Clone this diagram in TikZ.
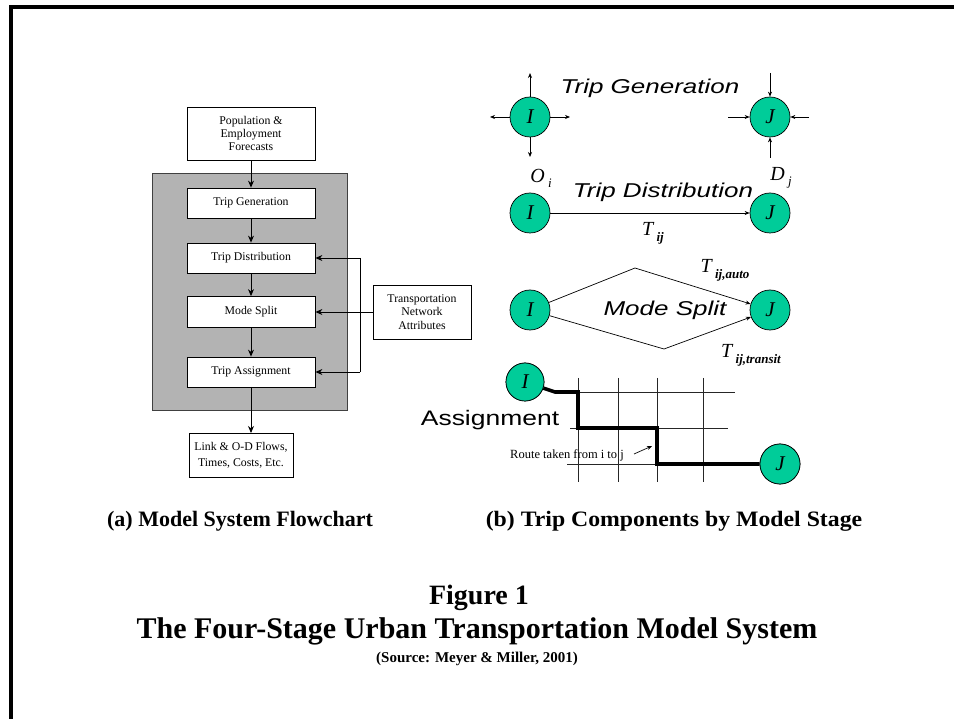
\documentclass[tikz,border=0pt]{standalone}
\usepackage{fontspec}
\usepackage{graphicx}
\setmainfont{Liberation Serif}
\newfontfamily\arialfont{Liberation Sans}
\usetikzlibrary{arrows.meta}

\definecolor{nodegreen}{RGB}{0,204,153}
\definecolor{panelgray}{RGB}{179,179,179}

\newcommand\setfs[2]{\fontsize{#1}{#2}\selectfont}
% italic sans stage headings, widened as in the slide
\newcommand\stagelabel[1]{\scalebox{1.3}[1]{\arialfont\itshape\setfs{20}{20}#1}}
% italic symbol with lowered subscript
\newcommand\symlab[2]{{\setfs{20}{20}\itshape #1\,\raisebox{-5pt}{\setfs{13}{13}#2}}}
\newcommand\tsym[1]{{\setfs{20}{20}\itshape T\,\raisebox{-6pt}{\setfs{13}{13}\bfseries\itshape #1}}}

\begin{document}
\begin{tikzpicture}[x=1pt,y=-1pt,
  box/.style={draw, fill=white, line width=0.8pt, inner sep=0pt, align=center,
              font=\setfs{11.8}{13}},
  flow/.style={line width=0.9pt, -{Stealth[length=7pt,width=6pt]}},
  thin arrow/.style={line width=0.7pt, -{Stealth[length=5pt,width=4pt]}},
  zone/.style={circle, draw, line width=0.7pt, fill=nodegreen, minimum size=40pt,
               inner sep=0pt, font=\setfs{21}{21}\itshape},
  gridline/.style={line width=0.7pt, black!85},
  route/.style={line width=3.6pt, line join=miter},
  caption/.style={font=\bfseries\setfs{22}{24}},
]
\useasboundingbox (0,0) rectangle (954,719);
\fill[white] (0,0) rectangle (954,719);

% page frame (top and left rules)
\draw[line width=4pt] (11,719) -- (11,7) -- (954,7);

% ---------------- (a) flowchart ----------------
\node[draw=black!75, fill=panelgray, line width=0.8pt, minimum width=195pt, minimum height=237pt,
      inner sep=0pt] (panel) at (249.5,291.5) {};

\node[box, minimum width=128pt, minimum height=53pt] (pop) at (251,133.5)
  {Population \&\\Employment\\Forecasts};
\node[box, minimum width=128pt, minimum height=30pt] (gen) at (251,203) {Trip Generation};
\node[box, minimum width=128pt, minimum height=30pt] (dist) at (251,258) {Trip Distribution};
\node[box, minimum width=128pt, minimum height=31pt] (mode) at (251,312) {Mode Split};
\node[box, minimum width=128pt, minimum height=30pt] (assign) at (251,372) {Trip Assignment};
\node[box, minimum width=104pt, minimum height=44pt, font=\setfs{11.8}{16}] (out) at (241,455)
  {Link \& O-D Flows,\\Times, Costs, Etc.};
\node[box, minimum width=98pt, minimum height=54pt, font=\setfs{11.8}{13.5}] (tna) at (422,312)
  {Transportation\\Network\\Attributes};

\coordinate (assignfoot) at (251,387);
\coordinate (outhead) at (251,433);
\draw[flow] (pop) -- (gen);
\draw[flow] (gen) -- (dist);
\draw[flow] (dist) -- (mode);
\draw[flow] (mode) -- (assign);
\draw[flow] (assignfoot) -- (outhead);

\coordinate (fbtop) at (360,258);
\coordinate (fbbot) at (360,372);
\draw[line width=0.9pt] (fbtop) -- (fbbot);
\draw[flow] (fbtop) -- (dist.east);
\draw[flow] (fbbot) -- (assign.east);
\draw[flow] (tna.west) -- (mode.east);

% ---------------- (b) trip components ----------------
% trip generation
\node[zone] (gI) at (530,117) {I};
\node[zone] (gJ) at (770,117) {J};
\coordinate (gIn) at (530,73);
\coordinate (gIw) at (490,117);
\coordinate (gIe) at (570,117);
\coordinate (gIs) at (530,157);
\draw[thin arrow] (gI) -- (gIn);
\draw[thin arrow] (gI) -- (gIw);
\draw[thin arrow] (gI) -- (gIe);
\draw[thin arrow] (gI) -- (gIs);
\coordinate (gJn) at (770,73);
\coordinate (gJw) at (728,117);
\coordinate (gJe) at (809,117);
\coordinate (gJs) at (770,158);
\draw[thin arrow] (gJn) -- (gJ);
\draw[thin arrow] (gJw) -- (gJ);
\draw[thin arrow] (gJe) -- (gJ);
\draw[thin arrow] (gJs) -- (gJ);
\node (lgen) at (650,88) {\stagelabel{Trip Generation}};
\node (lO) at (541,178) {\symlab{O}{i}};
\node (lD) at (781,178) {\symlab{D}{j}};

% trip distribution
\node[zone] (dI) at (530,213) {I};
\node[zone] (dJ) at (770,213) {J};
\draw[thin arrow] (dI) -- (dJ);
\node (ldist) at (663,192) {\stagelabel{Trip Distribution}};
\node (lTij) at (653,233) {\tsym{ij}};

% mode split
\node[zone] (mI) at (530,310) {I};
\node[zone] (mJ) at (770,310) {J};
\coordinate (autopk) at (635,268);
\coordinate (transitpk) at (664,349);
\draw[thin arrow] (mI) -- (autopk) -- (mJ);
\draw[thin arrow] (mI) -- (transitpk) -- (mJ);
\node (lmode) at (665,310) {\stagelabel{Mode Split}};
\node (lauto) at (725,270) {\tsym{ij,auto}};
\node (ltransit) at (751,355) {\tsym{ij,transit}};

% assignment grid
\coordinate (v1t) at (578,378); \coordinate (v1b) at (578,482);
\coordinate (v2t) at (618,378); \coordinate (v2b) at (618,482);
\coordinate (v3t) at (657,378); \coordinate (v3b) at (657,482);
\coordinate (v4t) at (703,378); \coordinate (v4b) at (703,482);
\coordinate (h1a) at (578,392); \coordinate (h1b) at (735,392);
\coordinate (h2a) at (570,428); \coordinate (h2b) at (728,428);
\coordinate (h3a) at (567,464); \coordinate (h3b) at (657,464);
\draw[gridline] (v1t) -- (v1b);
\draw[gridline] (v2t) -- (v2b);
\draw[gridline] (v3t) -- (v3b);
\draw[gridline] (v4t) -- (v4b);
\draw[gridline] (h1a) -- (h1b);
\draw[gridline] (h2a) -- (h2b);
\draw[gridline] (h3a) -- (h3b);

\node[zone, minimum size=38pt] (aI) at (525,382) {I};
\node[zone] (aJ) at (780,464) {J};
\coordinate (r0) at (555,392);
\coordinate (r1) at (578,392);
\coordinate (r2) at (578,428);
\coordinate (r3) at (657,428);
\coordinate (r4) at (657,464);
\draw[route] (aI) -- (r0) -- (r1) -- (r2) -- (r3) -- (r4) -- (aJ);
\node[zone, minimum size=38pt] at (aI) {I};
\node[zone] at (aJ) {J};

\node (lassign) at (490,420) {\scalebox{1.26}[1]{\arialfont\setfs{21}{21}Assignment}};
\node[font=\setfs{12.5}{14}] (lroute) at (567,455) {Route taken from i to j};
\coordinate (rtail) at (634,454);
\coordinate (rhead) at (652,446);
\draw[thin arrow] (rtail) -- (rhead);

% ---------------- captions ----------------
\node[caption] (capa) at (240,521) {(a) Model System Flowchart};
\node[caption] (capb) at (674,521) {\scalebox{1.08}[1]{(b) Trip Components by Model Stage}};
\node[font=\bfseries\setfs{28}{28}] (fig) at (479,598) {Figure 1};
\node[font=\bfseries\setfs{30}{30}] (title) at (477,631) {The Four-Stage Urban Transportation Model System};
\node[font=\bfseries\setfs{15}{15}] (src) at (477,659) {(Source: Meyer \& Miller, 2001)};
\end{tikzpicture}
\end{document}
